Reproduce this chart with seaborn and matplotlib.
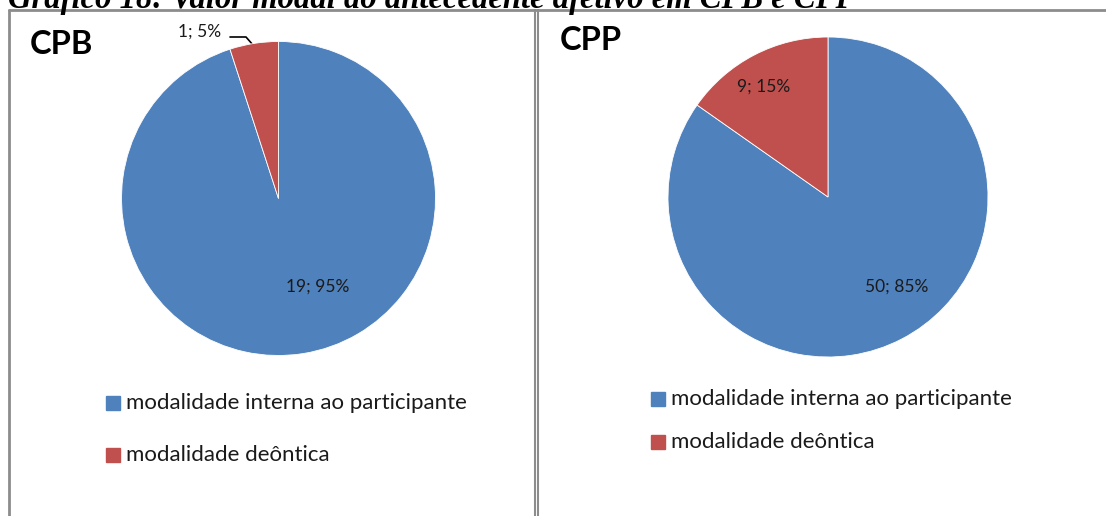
import numpy as np
import matplotlib
matplotlib.use("Agg")
import matplotlib.pyplot as plt
import seaborn as sns

# ---------- Data ----------
categories = ["modalidade interna ao participante", "modalidade deôntica"]
cpb_counts = [19, 1]
cpb_pcts = [95, 5]
cpp_counts = [50, 9]
cpp_pcts = [85, 15]
panel_titles = ["CPB", "CPP"]
chart_title = "Gráfico 18: Valor modal do antecedente afetivo em CPB e CPP"

sns.set_theme(style="white")
plt.rcParams["font.family"] = ["Lato", "DejaVu Sans"]
colors = ["#4F81BD", "#C0504D"]

W, H = 1106, 516
fig = plt.figure(figsize=(W / 100, H / 100), dpi=100)
fig.patch.set_facecolor("white")


def px_axes(cx, cy, r):
    # square axes centred on pixel (cx, cy) measured from top-left
    return fig.add_axes([(cx - r) / W, (H - cy - r) / H, 2 * r / W, 2 * r / H])


# ---------- Panel frames ----------
frame = fig.add_axes([0, 0, 1, 1])
frame.set_xlim(0, W)
frame.set_ylim(H, 0)
frame.axis("off")
border = "#8c8c8c"
frame.plot([8.5, 8.5], [10, H], color=border, lw=2)
frame.plot([8.5, W], [10, 10], color=border, lw=2)
frame.plot([534.5, 534.5], [10, H], color=border, lw=1.5)
frame.plot([537.5, 537.5], [10, H], color=border, lw=1.5)

# cut-off document caption above the charts (only its lower part is visible)
fig.text(8 / W, 1 - 8 / H, chart_title, family="Liberation Serif",
         fontweight="bold", fontstyle="italic", fontsize=23.5,
         ha="left", va="baseline", color="black")

panels = [
    dict(counts=cpb_counts, pcts=cpb_pcts, title=panel_titles[0],
         center=(278.5, 198.5), r=157,
         label_pos=[(0.25, -0.56), (-0.5, 1.06)],
         title_xy=(30, 44), legend_xy=(106, 403), legend_gap=52),
    dict(counts=cpp_counts, pcts=cpp_pcts, title=panel_titles[1],
         center=(828, 197), r=160,
         label_pos=[(0.43, -0.56), (-0.40, 0.69)],
         title_xy=(560, 41), legend_xy=(651, 399), legend_gap=43),
]

for p in panels:
    ax = px_axes(p["center"][0], p["center"][1], p["r"])
    ax.pie(p["counts"], colors=colors, startangle=90, counterclock=False,
           radius=1, wedgeprops=dict(linewidth=0.6, edgecolor="white"))
    ax.set_xlim(-1, 1)
    ax.set_ylim(-1, 1)
    ax.set_aspect("equal")
    ax.axis("off")

    for (lx, ly), n, pct in zip(p["label_pos"], p["counts"], p["pcts"]):
        ax.text(lx, ly, f"{n}; {pct}%", ha="center", va="center",
                fontsize=12.5, color="#1a1a1a", clip_on=False)

    # panel title
    frame.text(p["title_xy"][0], p["title_xy"][1], p["title"], fontsize=23.5,
               fontweight="bold", ha="left", va="center", color="black")

    # legend
    lx, ly = p["legend_xy"]
    for i, (cat, col) in enumerate(zip(categories, colors)):
        yy = ly + i * p["legend_gap"]
        frame.add_patch(plt.Rectangle((lx, yy - 7), 14, 14, color=col))
        frame.text(lx + 20, yy, cat, fontsize=16, ha="left", va="center",
                   color="#1a1a1a")

# leader line for the small CPB slice
frame.plot([230, 246, 253], [37, 37, 45], color="black", lw=1.2)

fig.savefig("out.png", dpi=100, facecolor="white")
